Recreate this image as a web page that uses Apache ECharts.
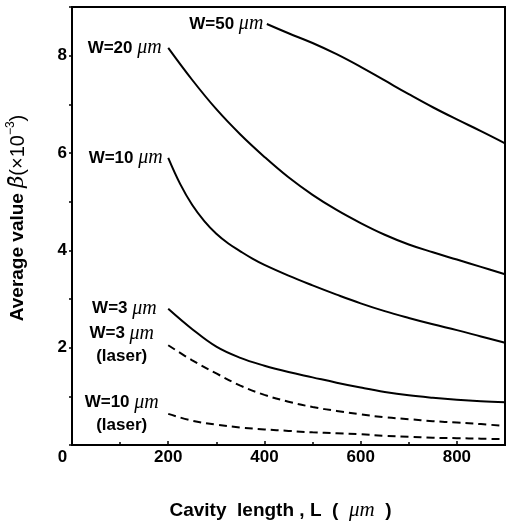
<!DOCTYPE html>
<html><head><meta charset="utf-8">
<script src="https://cdn.jsdelivr.net/npm/echarts@6/dist/echarts.min.js"></script>
<style>html,body{margin:0;padding:0;background:#fff}#c{width:506px;height:525px}</style>
</head><body><div id="c"></div>
<script>
// Cavity length L (μm) vs average value β (×10^-3)
const w50L = [405, 450, 500, 550, 600, 650, 700, 750, 800, 850, 900];
const w50V = [8.65, 8.46, 8.26, 8.03, 7.77, 7.49, 7.21, 6.94, 6.69, 6.45, 6.2];

const w20L = [200, 250, 300, 350, 400, 450, 500, 550, 600, 650, 700, 750, 800, 850, 900];
const w20V = [8.16, 7.5, 6.9, 6.38, 5.92, 5.5, 5.14, 4.83, 4.56, 4.32, 4.12, 3.96, 3.81, 3.66, 3.51];

const w10L = [200, 225, 250, 275, 300, 325, 350, 375, 400, 450, 500, 550, 600, 650, 700, 750, 800, 850, 900];
const w10V = [5.9, 5.36, 4.93, 4.6, 4.34, 4.14, 3.98, 3.83, 3.7, 3.48, 3.28, 3.09, 2.91, 2.75, 2.61, 2.48, 2.36, 2.23, 2.1];

const w3L = [200, 250, 300, 350, 400, 450, 500, 550, 600, 650, 700, 750, 800, 850, 900];
const w3V = [2.8, 2.38, 2.02, 1.79, 1.63, 1.5, 1.39, 1.28, 1.18, 1.09, 1.02, 0.97, 0.93, 0.9, 0.88];

const w3LaserL = [200, 250, 300, 350, 400, 450, 500, 550, 600, 650, 700, 750, 800, 850, 900];
const w3LaserV = [2.05, 1.74, 1.47, 1.22, 1.03, 0.89, 0.78, 0.7, 0.63, 0.57, 0.53, 0.49, 0.46, 0.43, 0.39];

const w10LaserL = [200, 250, 300, 350, 400, 450, 500, 550, 600, 650, 700, 750, 800, 850, 900];
const w10LaserV = [0.64, 0.5, 0.42, 0.36, 0.32, 0.29, 0.26, 0.24, 0.22, 0.19, 0.17, 0.15, 0.14, 0.13, 0.12];

const curveNames = ['W=50', 'W=20', 'W=10', 'W=3', 'W=3', 'W=10'];
const curveLaser = [false, false, false, false, true, true];
const xTicks = { min: 0, max: 900, interval: 200 };
const yTicks = { min: 0, max: 9, interval: 2 };

const SANS = '"Liberation Sans", Arial, sans-serif';
const SERIF = '"Liberation Serif", "DejaVu Serif", serif';

function mk(L, V) { return L.map((x, i) => [x, V[i]]); }

const labelRich = {
  a: { fontFamily: SANS, fontWeight: 'bold', fontSize: 17, color: '#000', lineHeight: 23 },
  b: { fontFamily: SERIF, fontStyle: 'italic', fontSize: 20, color: '#000', lineHeight: 23 }
};

// label placement styles for each curve (not data)
const labelPlace = [
  { distance: 3, offset: [0, -4], align: 'right' },
  { distance: 6, offset: [0, -7], align: 'right' },
  { distance: 5, offset: [0, -8], align: 'right' },
  { distance: 11, offset: [0, -10], align: 'right' },
  { distance: 46, offset: [0, 5], align: 'center' },
  { distance: 46, offset: [0, 2], align: 'center' }
];

function series(L, V, idx, dashed) {
  const d = mk(L, V);
  const name = curveNames[idx];
  const txt = '{a|' + name + ' }{b|μm}' + (curveLaser[idx] ? '\n{a|(laser)}' : '');
  const p = labelPlace[idx];
  const out = d.map((pt, i) => {
    if (i === 0) {
      return {
        value: pt,
        label: {
          show: true, position: 'left', distance: p.distance, offset: p.offset,
          align: p.align, formatter: txt, rich: labelRich
        }
      };
    }
    return { value: pt, label: { show: false } };
  });
  return {
    type: 'line', data: out, smooth: 0.4, symbol: 'circle', symbolSize: 1, showSymbol: true,
    showAllSymbol: true,
    itemStyle: { color: 'rgba(0,0,0,0)' },
    lineStyle: { color: '#000', width: 2, type: dashed ? [8, 5] : 'solid' },
    label: { show: false }, labelLayout: { hideOverlap: false },
    silent: true, animation: false, z: 3
  };
}

const chart = echarts.init(document.getElementById('c'), null, { renderer: 'canvas' });
chart.setOption({
  animation: false,
  backgroundColor: '#fff',
  grid: { left: 72, right: 1, top: 7, bottom: 80, containLabel: false, outerBoundsMode: 'none',
          show: true, borderColor: '#000', borderWidth: 2, backgroundColor: 'transparent' },
  xAxis: {
    type: 'value', min: xTicks.min, max: xTicks.max, interval: xTicks.interval,
    name: '{a|Cavity  length , L  (  }{b|μm}{a|  )}',
    nameLocation: 'middle', nameGap: 55,
    nameTextStyle: { padding: [0, 16, 0, 0], rich: {
      a: { fontFamily: SANS, fontWeight: 'bold', fontSize: 19, color: '#000' },
      b: { fontFamily: SERIF, fontStyle: 'italic', fontSize: 21, color: '#000' }
    } },
    axisLine: { show: true, lineStyle: { color: '#000', width: 2 } },
    axisTick: { show: true, inside: true, length: 4, lineStyle: { color: '#000', width: 1.5 } },
    minorTick: { show: true, splitNumber: 2, length: 3, lineStyle: { color: '#000', width: 1.5 } },
    splitLine: { show: false },
    axisLabel: {
      color: '#000', fontFamily: SANS, fontWeight: 'bold', fontSize: 17, margin: 4,
      showMaxLabel: false, alignMinLabel: 'right',
      formatter: v => (v === 0 ? '0 ' : String(v))
    }
  },
  yAxis: {
    type: 'value', min: yTicks.min, max: yTicks.max, interval: yTicks.interval,
    name: '{a|Average value }{b|β̄}{c|(×10}{d|−3}{c|)}',
    nameLocation: 'middle', nameGap: 41, nameRotate: 90,
    nameTextStyle: { padding: [0, 0, 0, 16], rich: {
      a: { fontFamily: SANS, fontWeight: 'bold', fontSize: 19, color: '#000', lineHeight: 26 },
      b: { fontFamily: '"DejaVu Serif", serif', fontStyle: 'italic', fontSize: 21, color: '#000', lineHeight: 26 },
      c: { fontFamily: SANS, fontSize: 20, color: '#000', lineHeight: 26 },
      d: { fontFamily: SANS, fontSize: 12, color: '#000', verticalAlign: 'top', lineHeight: 12 }
    } },
    axisLine: { show: true, lineStyle: { color: '#000', width: 2 } },
    axisTick: { show: true, inside: false, length: 3, lineStyle: { color: '#000', width: 1.5 } },
    minorTick: { show: true, splitNumber: 2, length: 3, lineStyle: { color: '#000', width: 1.5 } },
    splitLine: { show: false },
    axisLabel: {
      color: '#000', fontFamily: SANS, fontWeight: 'bold', fontSize: 17, margin: 5,
      showMinLabel: false, showMaxLabel: false
    }
  },
  series: [
    series(w50L, w50V, 0, false),
    series(w20L, w20V, 1, false),
    series(w10L, w10V, 2, false),
    series(w3L, w3V, 3, false),
    series(w3LaserL, w3LaserV, 4, true),
    series(w10LaserL, w10LaserV, 5, true)
  ]
});
</script>
</body></html>
